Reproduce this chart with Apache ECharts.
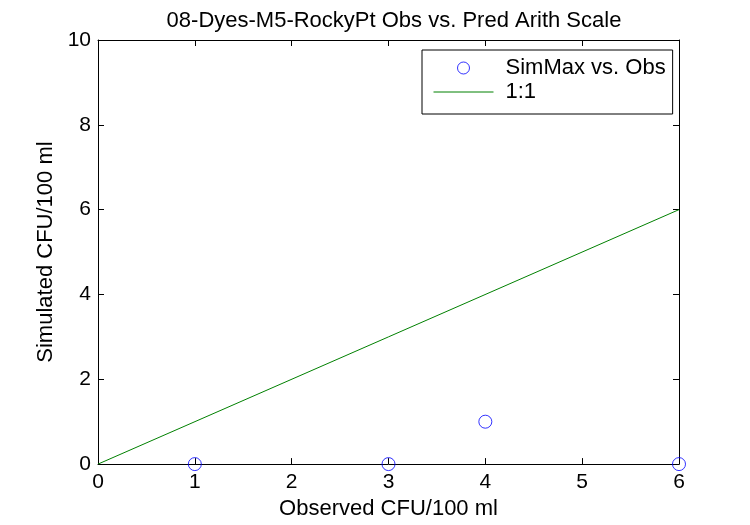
<!DOCTYPE html>
<html><head><meta charset="utf-8">
<script src="https://cdn.jsdelivr.net/npm/echarts@6/dist/echarts.min.js"></script>
<style>html,body{margin:0;padding:0;background:#fff;overflow:hidden}#c{width:750px;height:525px}</style>
</head><body><div id="c"></div>
<script>
const observed = [1, 3, 4, 6];
const simulated = [0, 0, 1, 0];
const oneToOneX = [0, 6];
const xTicks = [0, 1, 2, 3, 4, 5, 6];
const yTicks = [0, 2, 4, 6, 8, 10];
const titleText = '08-Dyes-M5-RockyPt Obs vs. Pred Arith Scale';
const xName = 'Observed CFU/100 ml';
const yName = 'Simulated CFU/100 ml';
const seriesNames = ['SimMax vs. Obs', '1:1'];

const chart = echarts.init(document.getElementById('c'), null, {renderer: 'canvas'});
const font = 'Arial, "Liberation Sans", sans-serif';
const gridL = 98, gridR = 71, gridT = 40, gridB = 60;
const axisCommon = {
  axisLine: {show: true, onZero: false, lineStyle: {color: '#000', width: 1}},
  axisTick: {show: true, inside: true, length: 6, lineStyle: {color: '#000'}},
  splitLine: {show: false}
};
chart.setOption({
  animation: false,
  backgroundColor: '#fff',
  title: {text: titleText, left: 389, top: 5, textAlign: 'center',
    textStyle: {fontFamily: font, fontSize: 22, fontWeight: 'normal', color: '#000'}},
  legend: {
    left: 422, top: 50, orient: 'vertical',
    borderColor: '#000', borderWidth: 1, backgroundColor: '#fff', borderRadius: 0,
    padding: [7, 7, 11, 11], itemWidth: 60, itemHeight: 12, itemGap: 2,
    textStyle: {fontFamily: font, fontSize: 22, lineHeight: 22, color: '#000', padding: [0, 0, 0, 7]},
    data: [
      {name: seriesNames[0], icon: 'circle', itemStyle: {color: 'transparent', borderColor: '#0000ff', borderWidth: 1}},
      {name: seriesNames[1], itemStyle: {opacity: 0, color: 'transparent', borderWidth: 0}, lineStyle: {color: '#008000', width: 1}}
    ]
  },
  grid: {left: gridL, right: gridR, top: gridT, bottom: gridB, containLabel: false},
  xAxis: [
    Object.assign({type: 'value', min: xTicks[0], max: xTicks[xTicks.length-1], interval: 1,
      name: xName, nameLocation: 'middle', nameGap: 33,
      nameTextStyle: {fontFamily: font, fontSize: 22, color: '#000'},
      axisLabel: {fontFamily: font, fontSize: 21, color: '#000', margin: 8}}, axisCommon),
    Object.assign({type: 'value', position: 'top', min: 0, max: 6, interval: 1,
      axisLabel: {show: false}}, axisCommon)
  ],
  yAxis: [
    Object.assign({type: 'value', min: yTicks[0], max: yTicks[yTicks.length-1], interval: 2,
      name: yName, nameLocation: 'middle', nameGap: 40,
      nameTextStyle: {fontFamily: font, fontSize: 22, color: '#000'},
      axisLabel: {fontFamily: font, fontSize: 21, color: '#000', margin: 7}}, axisCommon),
    Object.assign({type: 'value', position: 'right', min: 0, max: 10, interval: 2,
      axisLabel: {show: false}}, axisCommon)
  ],
  series: [
    {name: seriesNames[0], type: 'scatter', symbol: 'circle', symbolSize: 13,
      itemStyle: {color: 'transparent', borderColor: '#0000ff', borderWidth: 1},
      data: observed.map((x, i) => [x, simulated[i]]), clip: false, z: 3},
    {name: seriesNames[1], type: 'line', symbol: 'none', showSymbol: false,
      lineStyle: {color: '#008000', width: 1}, itemStyle: {color: '#008000'},
      data: oneToOneX.map(v => [v, v]), z: 2}
  ]
});
</script></body></html>
